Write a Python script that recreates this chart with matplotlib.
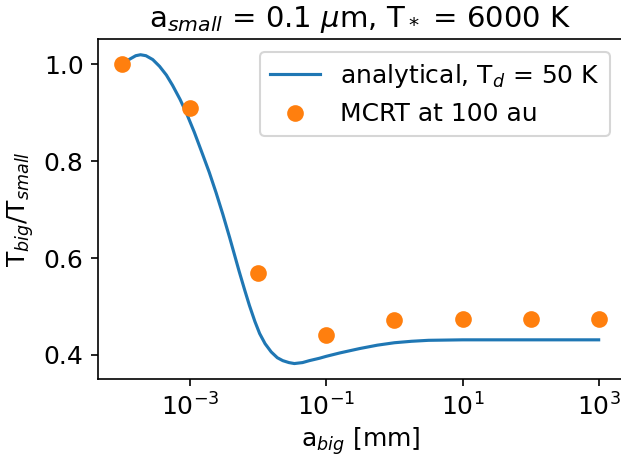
import numpy as np
import matplotlib
matplotlib.use("Agg")
import matplotlib.pyplot as plt

# analytical curve (log10 of a_big in mm)
log_a_curve = [-4.00, -3.90, -3.80, -3.73, -3.65, -3.55, -3.45, -3.35, -3.26, -3.15,
               -3.06, -2.94, -2.82, -2.72, -2.62, -2.52, -2.42, -2.35, -2.28, -2.20,
               -2.13, -2.05, -1.98, -1.90, -1.81, -1.72, -1.64, -1.55, -1.47, -1.35,
               -1.25, -1.10, -1.00, -0.80, -0.51, -0.25, 0.00, 0.25, 0.50, 1.00,
               1.50, 2.00, 2.50, 3.00]
t_ratio_curve = [1.000, 1.010, 1.018, 1.020, 1.018, 1.010, 0.996, 0.978, 0.957, 0.928,
                 0.901, 0.860, 0.815, 0.777, 0.735, 0.690, 0.642, 0.607, 0.572, 0.534,
                 0.502, 0.469, 0.444, 0.423, 0.406, 0.394, 0.388, 0.384, 0.382, 0.384,
                 0.388, 0.393, 0.397, 0.404, 0.413, 0.420, 0.425, 0.428, 0.430, 0.431,
                 0.431, 0.431, 0.431, 0.431]

# MCRT points
a_mcrt = [1e-4, 1e-3, 1e-2, 1e-1, 1e0, 1e1, 1e2, 1e3]
t_ratio_mcrt = [1.000, 0.910, 0.569, 0.441, 0.471, 0.475, 0.474, 0.475]

a_curve = np.power(10.0, log_a_curve)

plt.rcParams["font.size"] = 12

fig = plt.figure(figsize=(621 / 150, 457 / 150), dpi=150)
ax = fig.add_axes([0.1583, 0.1707, 1.0024 - 0.1583, 0.914 - 0.1707])

ax.plot(a_curve, t_ratio_curve, color="C0", lw=1.5, label=r"analytical, T$_d$ = 50 K")
ax.plot(a_mcrt, t_ratio_mcrt, "o", color="C1", ms=7, label="MCRT at 100 au")
ax.set_xscale("log")
ax.set_xticks([1e-3, 1e-1, 1e1, 1e3])
ax.set_yticks([0.4, 0.6, 0.8, 1.0])
ax.set_xlabel(r"a$_{big}$ [mm]", labelpad=2)
ax.set_ylabel(r"T$_{big}$/T$_{small}$")
ax.set_title(r"a$_{small}$ = 0.1 $\mu$m, T$_*$ = 6000 K", fontsize=14)
ax.legend(loc="upper right")

fig.savefig("out.png", dpi=150)
